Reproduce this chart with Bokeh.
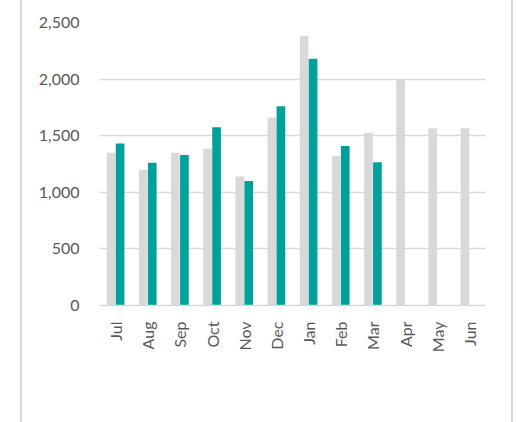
from bokeh.plotting import figure
from bokeh.models import FactorRange, Range1d, FixedTicker, NumeralTickFormatter, Legend, LegendItem, ColumnDataSource
from bokeh.transform import dodge
from bokeh.embed import file_html
from bokeh.resources import INLINE
import math

months = ["Jul", "Aug", "Sep", "Oct", "Nov", "Dec", "Jan", "Feb", "Mar", "Apr", "May", "Jun"]
fy25 = [1350, 1200, 1350, 1385, 1140, 1660, 2380, 1320, 1525, 2000, 1565, 1565]
fy26 = [1430, 1260, 1330, 1575, 1100, 1760, 2180, 1410, 1265, None, None, None]
yticks = [0, 500, 1000, 1500, 2000, 2500]

src25 = ColumnDataSource(dict(m=months, v=fy25))
m26 = [m for m, v in zip(months, fy26) if v is not None]
v26 = [v for v in fy26 if v is not None]
src26 = ColumnDataSource(dict(m=m26, v=v26))

FONT = "Lato"
TXT = "#595959"
GRID = "#d9d9d9"

p = figure(x_range=FactorRange(*months), y_range=Range1d(0, 2500),
           frame_width=386, frame_height=283, output_backend="svg", toolbar_location=None,
           min_border_left=77, min_border_right=26, min_border_top=22, min_border_bottom=86)
p.styles = {"margin-left": "20px", "border-left": "2px solid #d9d9d9",
            "border-right": "2px solid #d9d9d9"}
p.outline_line_color = None

r25 = p.vbar(x=dodge("m", -0.14, range=p.x_range), top="v", width=0.27, source=src25,
             fill_color="#d9d9d9", line_color=None)
r26 = p.vbar(x=dodge("m", 0.14, range=p.x_range), top="v", width=0.27, source=src26,
             fill_color="#00a19b", line_color=None)

p.xgrid.grid_line_color = None
p.ygrid.grid_line_color = GRID
p.ygrid.grid_line_width = 1.5
p.yaxis.ticker = FixedTicker(ticks=yticks)
p.yaxis.formatter = NumeralTickFormatter(format="0,0")
p.yaxis.axis_line_color = None
p.yaxis.major_tick_line_color = None
p.yaxis.minor_tick_line_color = None
p.yaxis.major_label_standoff = 14
p.xaxis.axis_line_color = GRID
p.xaxis.axis_line_width = 1.5
p.xaxis.major_tick_line_color = None
p.xaxis.major_label_orientation = math.pi / 2
p.xaxis.major_label_standoff = 10
for ax in (p.xaxis, p.yaxis):
    ax.major_label_text_font = FONT
    ax.major_label_text_font_size = "16px"
    ax.major_label_text_color = TXT

legend = Legend(items=[LegendItem(label="FY25 monthly sales", renderers=[r25]),
                       LegendItem(label="FY26 monthly sales", renderers=[r26])],
                orientation="horizontal", location="top_left",
                label_text_font=FONT, label_text_font_size="16px", label_text_color=TXT,
                glyph_width=14, glyph_height=14, label_standoff=2, spacing=36,
                padding=0, margin=0, border_line_color=None, background_fill_alpha=0)
p.add_layout(legend, "below")

open("out.html", "w").write(file_html(p, INLINE))
